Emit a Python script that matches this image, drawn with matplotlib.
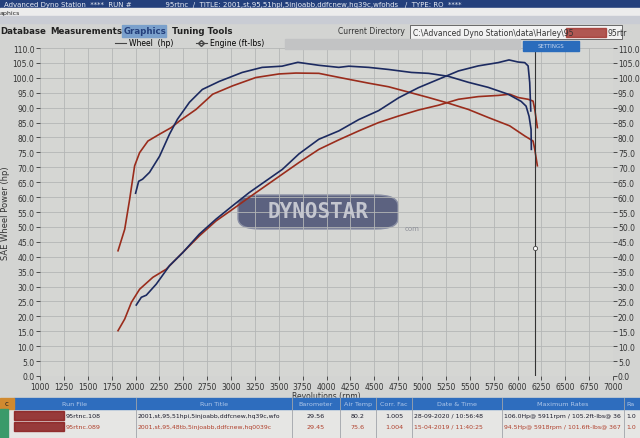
import numpy as np
import matplotlib.pyplot as plt
from matplotlib.patches import Rectangle, FancyBboxPatch
from matplotlib.lines import Line2D

# run 108 (blue)
rpm_hp108 = [2008, 2061, 2113, 2217, 2356, 2495, 2669, 2843, 3017, 3190, 3364, 3538, 3712,
             3920, 4129, 4338, 4546, 4755, 4963, 5172, 5381, 5589, 5798, 5911, 6006, 6076,
             6111, 6128, 6139]
hp108 = [23.8, 26.4, 27.1, 30.8, 37.0, 41.4, 47.6, 52.6, 57.1, 61.5, 65.4, 69.3, 74.5,
         79.4, 82.2, 86.0, 89.0, 93.3, 96.7, 99.5, 102.3, 104.0, 105.1, 106.0, 105.3, 105.1,
         104.0, 98.4, 88.9]
rpm_tq108 = [2001, 2033, 2074, 2147, 2252, 2356, 2439, 2565, 2700, 2877, 3117, 3326, 3534,
             3700, 3920, 4129, 4233, 4442, 4650, 4890, 5068, 5276, 5485, 5693, 5902, 6038,
             6090, 6121, 6142, 6145]
tq108 = [61.3, 65.3, 66.0, 68.3, 73.7, 81.1, 86.1, 91.8, 96.1, 98.8, 101.8, 103.5, 103.9,
         105.2, 104.2, 103.5, 103.9, 103.5, 102.8, 101.8, 101.5, 100.5, 98.5, 96.8, 94.5,
         92.1, 90.5, 87.1, 82.7, 76.0]

# run 089 (red)
rpm_hp089 = [1817, 1887, 1957, 2043, 2182, 2321, 2460, 2669, 2843, 3016, 3190, 3364, 3538,
             3712, 3920, 4129, 4338, 4546, 4755, 4963, 5172, 5381, 5589, 5798, 5918, 6006,
             6111, 6163, 6181, 6208]
hp089 = [15.2, 19.1, 24.7, 29.1, 33.1, 35.8, 40.3, 47.0, 52.0, 55.9, 59.9, 63.8, 67.7,
         71.6, 76.0, 79.2, 82.2, 85.0, 87.2, 89.2, 90.8, 92.8, 93.7, 94.1, 94.5, 93.4,
         92.8, 92.2, 89.4, 83.3]
rpm_tq089 = [1817, 1887, 1939, 1991, 2043, 2130, 2252, 2374, 2460, 2634, 2808, 3016, 3260,
             3503, 3680, 3920, 4059, 4233, 4442, 4650, 4859, 5068, 5276, 5485, 5693, 5918,
             6076, 6163, 6181, 6208]
tq089 = [42.0, 49.2, 59.3, 70.5, 74.9, 78.8, 81.1, 83.3, 85.5, 89.4, 94.5, 97.3, 100.1,
         101.3, 101.6, 101.5, 100.6, 99.5, 98.2, 97.0, 95.2, 93.4, 91.5, 89.4, 86.7, 83.9,
         80.5, 78.8, 76.0, 70.5]

cursor_rpm = 6183
cursor_val = 42.9

x_ticks = list(range(1000, 7001, 250))
y_ticks = list(range(0, 111, 5))

col_heads = ["Run File", "Run Title", "Barometer", "Air Temp", "Corr. Fac", "Date & Time",
             "Maximum Rates", "Ra"]
row108 = ["95rtnc.108", "2001,st,95,51hpi,5injoabb,ddfcnew,hq39c,wfo", "29.56", "80.2",
          "1.005", "28-09-2020 / 10:56:48", "106.0Hp@ 5911rpm / 105.2ft-lbs@ 36", "1.0"]
row089 = ["95rtnc.089", "2001,st,95,48tb,5injoabb,ddfcnew,hq0039c", "29.45", "75.6",
          "1.004", "15-04-2019 / 11:40:25", "94.5Hp@ 5918rpm / 101.6ft-lbs@ 367", "1.0"]

BLUE = '#1c2a60'
RED = '#9a2c1c'
W, H = 640, 439


def fx(x):
    return x / W


def fy(y):
    return 1 - y / H


fig = plt.figure(figsize=(6.4, 4.39), dpi=100, facecolor='#d3d4d2')

# window chrome
fig.patches.append(Rectangle((0, fy(9)), 1, 9 / H, transform=fig.transFigure, color='#24407c'))
fig.text(fx(4), fy(4.5), "Advanced Dyno Station  ****  RUN #               95rtnc  /  TITLE: 2001,st,95,51hpi,5injoabb,ddfcnew,hq39c,wfohds   /  TYPE: RO  ****",
         color='#e8ecf4', fontsize=5, va='center')
fig.patches.append(Rectangle((0, fy(17)), 1, 8 / H, transform=fig.transFigure, color='#ececec'))
fig.text(fx(0), fy(13), "aphics", fontsize=4.5, va='center', color='#222')
fig.patches.append(Rectangle((0, fy(24)), 1, 7 / H, transform=fig.transFigure, color='#c9ccd4'))
fig.patches.append(Rectangle((fx(122), fy(38)), 44 / W, 12 / H, transform=fig.transFigure,
                             color='#7aa0cc'))
menu = [("Database", 0), ("Measurements", 50), ("Graphics", 124), ("Tuning Tools", 172)]
for t, x in menu:
    fig.text(fx(x), fy(32), t, fontsize=6.2, fontweight='bold', va='center',
             color='#24407c' if t == "Graphics" else '#222')
fig.text(fx(338), fy(32), "Current Directory", fontsize=5.5, va='center', color='#333')
fig.patches.append(Rectangle((fx(410), fy(40)), 212 / W, 14 / H, transform=fig.transFigure,
                             facecolor='#f2f2f2', edgecolor='#555', lw=0.6))
fig.text(fx(413), fy(33), "C:\\Advanced Dyno Station\\data\\Harley\\95", fontsize=5.5,
         va='center', color='#333')
fig.patches.append(Rectangle((fx(566), fy(38)), 40 / W, 9 / H, transform=fig.transFigure,
                             color='#a0302a', alpha=0.8))
fig.text(fx(608), fy(33), "95rtr", fontsize=5.5, va='center', color='#333')

# plot
ax = fig.add_axes([fx(40), fy(377), 573 / W, 328 / H])
ax.set_facecolor('#d5d6d3')
ax.set_xlim(1000, 7000)
ax.set_ylim(0, 110)
ax.set_xticks(x_ticks)
ax.set_yticks(y_ticks)
ax.set_yticklabels([f"{v:.1f}" for v in y_ticks])
ax.tick_params(labelsize=5.5, length=3, width=0.6, colors='#333', pad=1)
ax.grid(True, color='#b4b6b6', lw=0.6)
ax.set_axisbelow(True)
for s in ax.spines.values():
    s.set_visible(False)
ax.set_xlabel("Revolutions (rpm)", fontsize=5.5, color='#333')
ax.xaxis.set_label_coords(0.5, -0.045)
ax.set_ylabel("SAE Wheel Power (hp)", fontsize=6, color='#333', labelpad=2)

ax2 = ax.twinx()
ax2.set_ylim(0, 110)
ax2.set_yticks(y_ticks)
ax2.set_yticklabels([f"{v:.1f}" for v in y_ticks])
ax2.tick_params(labelsize=5.5, length=3, width=0.6, colors='#333', pad=0.5)
for s in ax2.spines.values():
    s.set_visible(False)

# watermark
wm = FancyBboxPatch((fx(238), fy(230)), 160 / W, 34 / H, boxstyle="round,pad=0,rounding_size=0.035",
                    transform=fig.transFigure, facecolor='#5c6280', edgecolor='#8a8fa4', lw=1,
                    zorder=0.5, mutation_aspect=H / W)
ax.add_artist(wm)
fig.text(fx(318), fy(212), "DYNOSTAR", fontsize=15, color='#c4c6cf', ha='center', va='center',
         fontfamily='DejaVu Sans Mono', fontweight='bold')
fig.text(fx(405), fy(229), "com", fontsize=5, color='#8d8f98', ha='left', va='center')

ax.plot(rpm_hp089, hp089, color=RED, lw=1.2)
ax.plot(rpm_tq089, tq089, color=RED, lw=1.2)
ax.plot(rpm_hp108, hp108, color=BLUE, lw=1.2)
ax.plot(rpm_tq108, tq108, color=BLUE, lw=1.2)

# cursor
ax.axvline(cursor_rpm, color='#333', lw=0.8)
ax.plot([cursor_rpm], [cursor_val], 'o', mfc='white', mec='#444', ms=3, mew=0.6)

# legend strip
fig.patches.append(Rectangle((fx(285), fy(50)), 235 / W, 10 / H, transform=fig.transFigure,
                             color='#c2c3c4'))
fig.patches.append(Rectangle((fx(523), fy(52)), 56 / W, 10 / H, transform=fig.transFigure,
                             color='#2a6cbc'))
fig.text(fx(551), fy(47), "SETTINGS", fontsize=4, color='#c8d8f0', ha='center', va='center')
handles = [Line2D([], [], color='#444', lw=0.8),
           Line2D([], [], color='#444', lw=0.8, marker='D', mfc='none', ms=3)]
fig.legend(handles, ["Wheel  (hp)", "Engine (ft-lbs)"], loc='center left',
           bbox_to_anchor=(fx(108), fy(44)), ncol=2, frameon=False, fontsize=5.5,
           handlelength=1.4, columnspacing=3, handletextpad=0.4)

# results table
top = 399
fig.patches.append(Rectangle((0, 0), 1, fy(top), transform=fig.transFigure, color='#e6e6e4'))
fig.patches.append(Rectangle((fx(14), fy(top + 11)), 1, 11 / H, transform=fig.transFigure,
                             color='#2e6dbe'))
fig.patches.append(Rectangle((0, fy(top + 11)), fx(14), 11 / H, transform=fig.transFigure,
                             color='#d08a30'))
fig.patches.append(Rectangle((0, 0), fx(8), fy(top + 11), transform=fig.transFigure,
                             color='#3a9a6a'))
fig.text(fx(7), fy(top + 5.5), "c", fontsize=5, ha='center', va='center', color='#222')
col_x = [14, 136, 292, 340, 376, 412, 502, 624, 660]
for x in col_x[1:-1]:
    fig.add_artist(Line2D([fx(x), fx(x)], [0, fy(top)], color='#a0a4aa', lw=0.6))
for i, h in enumerate(col_heads):
    if i < len(col_heads) - 1:
        fig.text(fx((col_x[i] + col_x[i + 1]) / 2), fy(top + 5.5), h, fontsize=4.6,
                 ha='center', va='center', color='#b0c8ea')
    else:
        fig.text(fx(col_x[i] + 2), fy(top + 5.5), h, fontsize=4.6, ha='left', va='center',
                 color='#b0c8ea')
fig.patches.append(Rectangle((fx(14), fy(421)), 50 / W, 9 / H, transform=fig.transFigure,
                             color='#8a1c1c', alpha=0.85))
fig.patches.append(Rectangle((fx(14), fy(432)), 50 / W, 9 / H, transform=fig.transFigure,
                             color='#8a1c1c', alpha=0.85))
for row, y, c in [(row108, 416.5, '#1a1a2a'), (row089, 427.5, '#b0402c')]:
    for i, t in enumerate(row):
        if i == 0:
            fig.text(fx(66), fy(y), t, fontsize=4.6, ha='left', va='center', color=c)
        elif i in (1, 5, 6, 7):
            fig.text(fx(col_x[i] + 2), fy(y), t, fontsize=4.4, ha='left', va='center', color=c)
        else:
            fig.text(fx((col_x[i] + col_x[i + 1]) / 2), fy(y), t, fontsize=4.6, ha='center',
                     va='center', color=c)

fig.savefig('out.png', dpi=100, facecolor=fig.get_facecolor())
